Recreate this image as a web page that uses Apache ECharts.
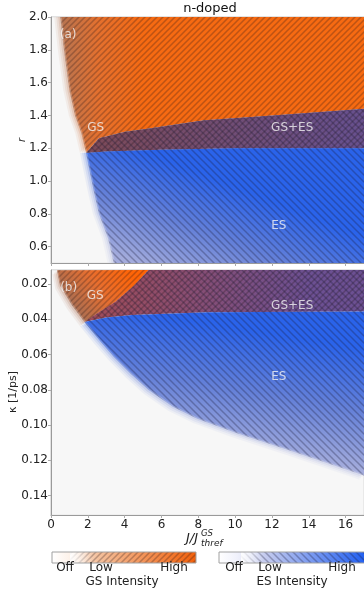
<!DOCTYPE html>
<html><head><meta charset="utf-8">
<script src="https://cdn.jsdelivr.net/npm/echarts@6.0.0/dist/echarts.min.js"></script>
<style>html,body{margin:0;padding:0;background:#fff}#c{width:364px;height:592px}</style>
</head><body><div id="c"></div><script>
// ---------- data ----------
const jTicks = [0, 2, 4, 6, 8, 10, 12, 14, 16];
const rTicks = [0.6, 0.8, 1.0, 1.2, 1.4, 1.6, 1.8, 2.0];
const kappaTicks = [0.02, 0.04, 0.06, 0.08, 0.10, 0.12, 0.14];

// Panel (a): lasing threshold boundary [J/Jth, r]
const thresholdA = [[0.5,2.0],[0.7,1.8],[1.0,1.55],[1.3,1.4],[1.65,1.29],[1.9,1.17],[2.1,1.06],[2.3,0.95],[2.6,0.8],[3.1,0.65],[3.4,0.5]];
// boundary GS-only / GS+ES
const esOnsetA = [[1.9,1.17],[2.6,1.26],[4,1.3],[5.3,1.32],[8.3,1.37],[12,1.4],[17,1.44]];
// boundary GS+ES / ES-only
const gsQuenchA = [[1.9,1.17],[3,1.18],[6,1.19],[10,1.2],[17,1.2]];

// Panel (b): lasing threshold boundary [J/Jth, kappa]
const thresholdB = [[0.32,0.0121],[0.48,0.0206],[1.12,0.0319],[1.81,0.0415],[2.61,0.0517],[3.41,0.0613],[4.32,0.0709],[5.28,0.080],[6.61,0.0896],[7.94,0.0964],[10.02,0.1043],[13.0,0.1145],[16.68,0.1275],[17,0.1287]];
const esOnsetB = [[1.81,0.0415],[2.6,0.036],[3.5,0.030],[4.5,0.021],[5.3,0.012]];
const gsQuenchB = [[1.81,0.0415],[3,0.039],[4.4,0.0375],[8.5,0.036],[17,0.0355]];

// region annotations
const labelsA = [{text:'(a)', at:[0.93,1.89]},{text:'GS', at:[2.43,1.324]},{text:'GS+ES', at:[13.1,1.324]},{text:'ES', at:[12.37,0.724]}];
const labelsB = [{text:'(b)', at:[0.96,0.0223]},{text:'GS', at:[2.4,0.0268]},{text:'GS+ES', at:[13.1,0.0322]},{text:'ES', at:[12.37,0.0729]}];

// ---------- region polygons built from the boundaries ----------
const mA = 5, mB = 3;
const gsOnlyA = [...thresholdA.slice(0, mA + 1), ...esOnsetA.slice(1), [17, 2.0]];
const overlapA = [...esOnsetA, ...gsQuenchA.slice().reverse()];
const esOnlyA = [...gsQuenchA, [17, 0.5], ...thresholdA.slice(mA).reverse()];
const gsOnlyB = [...thresholdB.slice(0, mB + 1), ...esOnsetB.slice(1)];
const overlapB = [...esOnsetB, [17, 0.012], ...gsQuenchB.slice().reverse()];
const esOnlyB = [...gsQuenchB, ...thresholdB.slice(mB).reverse()];

const FONT = 'DejaVu Sans';
const BG = '#f7f7f7';

function hatch(size, dir, color, lw) {
  const c = document.createElement('canvas');
  c.width = c.height = size;
  const g = c.getContext('2d');
  g.strokeStyle = color; g.lineWidth = lw; g.lineCap = 'butt';
  g.beginPath();
  if (dir > 0) {
    g.moveTo(-1, size + 1); g.lineTo(size + 1, -1);
    g.moveTo(-size / 2 - 1, size / 2 + 1); g.lineTo(size / 2 + 1, -size / 2 - 1);
    g.moveTo(size / 2 - 1, size * 1.5 + 1); g.lineTo(size * 1.5 + 1, size / 2 - 1);
  } else {
    g.moveTo(-1, -1); g.lineTo(size + 1, size + 1);
    g.moveTo(-size / 2 - 1, size / 2 - 1); g.lineTo(size / 2 + 1, size * 1.5 + 1);
    g.moveTo(size / 2 - 1, -size / 2 - 1); g.lineTo(size * 1.5 + 1, size / 2 + 1);
  }
  g.stroke();
  return c;
}
const GS_PAT = { image: hatch(6, 1, 'rgba(40,20,25,0.28)', 1.5), repeat: 'repeat' };
const ES_PAT = { image: hatch(7, -1, 'rgba(25,25,55,0.3)', 1.5), repeat: 'repeat' };

function grad(api, p0, p1, stops) {
  const a = api.coord(p0), b = api.coord(p1);
  return new echarts.graphic.LinearGradient(a[0], a[1], b[0], b[1],
    stops.map(s => ({ offset: s[0], color: s[1] })), true);
}

// polygon drawn through the axes; optional pixel offsets build a soft halo
function polySeries(grid, verts, styleOf, z, halo) {
  return {
    type: 'custom', coordinateSystem: 'cartesian2d', xAxisIndex: grid, yAxisIndex: grid,
    clip: true, silent: true, z: z, data: verts,
    renderItem: function (params, api) {
      if (params.dataIndex !== 0) return null;
      const pts = verts.map(v => api.coord(v));
      if (!halo) return { type: 'polygon', shape: { points: pts }, style: styleOf(api) };
      return { type: 'group', children: halo.offsets.map(s => ({
        type: 'polygon', shape: { points: pts.map(p => [p[0] + s * halo.dx, p[1] + s * halo.dy]) },
        style: Object.assign(styleOf(api), { opacity: halo.opacity }) })) };
    }
  };
}

function maskSeries(grid, verts, dx, dy, shifts, color, z) {
  return {
    type: 'custom', coordinateSystem: 'cartesian2d', xAxisIndex: grid, yAxisIndex: grid,
    clip: true, silent: true, z: z, data: verts,
    renderItem: function (params, api) {
      if (params.dataIndex !== 0) return null;
      const cs = params.coordSys;
      const top = cs.y, bot = cs.y + cs.height, left = cs.x;
      const base = verts.map(v => api.coord(v));
      const children = shifts.map(s => {
        const pts = base.map(p => [p[0] + s * dx, Math.min(bot, Math.max(top, p[1] + s * dy))]);
        const f = pts[0], l = pts[pts.length - 1];
        return { type: 'polygon', shape: { points: [[left, top], [f[0], top], ...pts, [l[0], bot], [left, bot]] },
                 style: { fill: color } };
      });
      return { type: 'group', children: children };
    }
  };
}

function labelSeries(grid, labels) {
  return {
    type: 'scatter', xAxisIndex: grid, yAxisIndex: grid, z: 8, silent: true, symbolSize: 1,
    itemStyle: { color: 'rgba(0,0,0,0)' },
    data: labels.map(l => ({ name: l.text, value: l.at })),
    label: { show: true, position: 'inside', formatter: '{b}', color: '#f4f4f4', fontSize: 12, fontFamily: FONT }
  };
}

const ES_STOPS = [[0, '#a4acdc'], [0.5, '#6480d8'], [1, '#2a63ea']];
const GS_STOPS = [[0, '#b87450'], [0.45, '#e4702e'], [1, '#f66a12']];
const GSB_STOPS = [[0, '#aa6e52'], [0.5, '#e86e2e'], [1, '#ff6406']];
const MASK = 'rgba(247,247,247,0.25)';
const HALO_A = { dx: -1, dy: 0, offsets: [2, 4, 6], opacity: 0.28 };
const HALO_B = { dx: -0.75, dy: 0.66, offsets: [2, 4, 6], opacity: 0.28 };

const gsFillA = api => ({ fill: grad(api, [0.6, 1.7], [5, 1.7], GS_STOPS) });
const esFillA = api => ({ fill: grad(api, [4.2, 0.513], [6.3, 1.125], ES_STOPS) });
const gsFillB = api => ({ fill: grad(api, [1.5, 0.038], [4.5, 0.015], GSB_STOPS) });
const esFillB = api => ({ fill: grad(api, [9.55, 0.114], [10.6, 0.046], ES_STOPS) });

const series = [
  // panel (a)
  polySeries(0, gsOnlyA, gsFillA, 1, HALO_A),
  polySeries(0, esOnlyA, esFillA, 1, HALO_A),
  polySeries(0, gsOnlyA, gsFillA, 2),
  polySeries(0, overlapA, api => ({ fill: grad(api, [2, 1.3], [16, 1.3], [[0, '#7c4a58'], [1, '#68508c']]) }), 2),
  polySeries(0, esOnlyA, esFillA, 2),
  polySeries(0, gsOnlyA, () => ({ fill: GS_PAT }), 3),
  polySeries(0, overlapA, () => ({ fill: GS_PAT }), 3),
  polySeries(0, overlapA, () => ({ fill: ES_PAT }), 3),
  polySeries(0, esOnlyA, () => ({ fill: ES_PAT }), 3),
  maskSeries(0, thresholdA, 1, 0, [-4, -2, 0, 1.5], MASK, 4),
  labelSeries(0, labelsA),
  // panel (b)
  polySeries(1, gsOnlyB, gsFillB, 1, HALO_B),
  polySeries(1, esOnlyB, esFillB, 1, HALO_B),
  polySeries(1, gsOnlyB, gsFillB, 2),
  polySeries(1, overlapB, api => ({ fill: grad(api, [3, 0.03], [14, 0.03], [[0, '#9c4c5c'], [1, '#6c5092']]) }), 2),
  polySeries(1, esOnlyB, esFillB, 2),
  polySeries(1, gsOnlyB, () => ({ fill: GS_PAT }), 3),
  polySeries(1, overlapB, () => ({ fill: GS_PAT }), 3),
  polySeries(1, overlapB, () => ({ fill: ES_PAT }), 3),
  polySeries(1, esOnlyB, () => ({ fill: ES_PAT }), 3),
  maskSeries(1, thresholdB, 0.75, -0.66, [-4, -2, 0, 1.5], MASK, 4),
  labelSeries(1, labelsB)
];

function has(arr, v) { return arr.some(t => Math.abs(t - v) < 1e-9); }

const axisLine = { show: true, lineStyle: { color: '#9a9a9a', width: 1 } };
const tickStyle = { lineStyle: { color: '#aaa' }, length: 3 };

const option = {
  animation: false,
  backgroundColor: '#ffffff',
  grid: [
    { left: 51, top: 17, width: 319, height: 246, show: true, backgroundColor: BG, borderColor: '#c4c4c4', borderWidth: 1 },
    { left: 51, top: 270, width: 319, height: 245, show: true, backgroundColor: BG, borderColor: '#c4c4c4', borderWidth: 1 }
  ],
  xAxis: [
    { type: 'value', gridIndex: 0, min: 0, max: 17, z: 10, axisLine: axisLine,
      axisTick: Object.assign({ show: true, customValues: jTicks }, tickStyle),
      axisLabel: { show: false }, splitLine: { show: false } },
    { type: 'value', gridIndex: 1, min: 0, max: 17, z: 10, axisLine: axisLine,
      axisTick: Object.assign({ show: true, customValues: jTicks }, tickStyle),
      axisLabel: { show: true, customValues: jTicks, margin: 4, fontSize: 12, fontFamily: FONT, color: '#222',
        formatter: v => has(jTicks, v) ? String(v) : '' },
      splitLine: { show: false } }
  ],
  yAxis: [
    { type: 'value', gridIndex: 0, min: 0.5, max: 2.0, z: 10, axisLine: axisLine,
      axisTick: Object.assign({ show: true, customValues: rTicks }, tickStyle),
      axisLabel: { show: true, customValues: rTicks, margin: 3, fontSize: 12, fontFamily: FONT, color: '#222',
        formatter: v => has(rTicks, v) ? v.toFixed(1) : '' },
      splitLine: { show: false } },
    { type: 'value', gridIndex: 1, min: 0.012, max: 0.151, inverse: true, z: 10, axisLine: axisLine,
      axisTick: Object.assign({ show: true, customValues: kappaTicks }, tickStyle),
      axisLabel: { show: true, customValues: kappaTicks, margin: 3, fontSize: 12, fontFamily: FONT, color: '#222',
        formatter: v => has(kappaTicks, v) ? v.toFixed(2) : '' },
      splitLine: { show: false } }
  ],
  series: series,
  graphic: [
    { type: 'text', x: 210, y: 9, style: { text: 'n-doped', font: '13px ' + FONT, fill: '#111', align: 'center', verticalAlign: 'middle' } },
    { type: 'text', x: 22, y: 140, rotation: Math.PI / 2, style: { text: 'r', font: 'italic 10px ' + FONT, fill: '#222', align: 'center', verticalAlign: 'middle' } },
    { type: 'text', x: 13, y: 392, rotation: Math.PI / 2, style: { text: 'κ [1/ps]', font: '11px ' + FONT, fill: '#222', align: 'center', verticalAlign: 'middle' } },
    { type: 'text', x: 186, y: 539, style: { text: 'J/J', font: 'italic 13px ' + FONT, fill: '#222', align: 'left', verticalAlign: 'middle' } },
    { type: 'text', x: 201, y: 534, style: { text: 'GS', font: 'italic 8.5px ' + FONT, fill: '#222', align: 'left', verticalAlign: 'middle' } },
    { type: 'text', x: 201, y: 544, style: { text: 'thref', font: 'italic 9px ' + FONT, fill: '#222', align: 'left', verticalAlign: 'middle' } },
    // GS colour bar
    { type: 'rect', shape: { x: 52, y: 552, width: 144, height: 11 },
      style: { fill: new echarts.graphic.LinearGradient(0, 0, 1, 0, [
        { offset: 0, color: '#ffffff' }, { offset: 0.12, color: '#fdf2ea' }, { offset: 0.32, color: '#f4c09c' }, { offset: 1, color: '#f2600a' }]) } },
    { type: 'rect', shape: { x: 70, y: 552, width: 126, height: 11 }, style: { fill: GS_PAT } },
    { type: 'rect', shape: { x: 70, y: 552, width: 22, height: 11 },
      style: { fill: new echarts.graphic.LinearGradient(0, 0, 1, 0, [
        { offset: 0, color: 'rgba(255,255,255,0.9)' }, { offset: 1, color: 'rgba(255,255,255,0)' }]) } },
    { type: 'rect', shape: { x: 52, y: 552, width: 144, height: 11 }, style: { fill: 'none', stroke: '#a0a0a0', lineWidth: 1 } },
    { type: 'text', x: 65, y: 568, style: { text: 'Off', font: '12px ' + FONT, fill: '#222', align: 'center', verticalAlign: 'middle' } },
    { type: 'text', x: 101, y: 568, style: { text: 'Low', font: '12px ' + FONT, fill: '#222', align: 'center', verticalAlign: 'middle' } },
    { type: 'text', x: 174, y: 568, style: { text: 'High', font: '12px ' + FONT, fill: '#222', align: 'center', verticalAlign: 'middle' } },
    { type: 'text', x: 122, y: 582, style: { text: 'GS Intensity', font: '12px ' + FONT, fill: '#222', align: 'center', verticalAlign: 'middle' } },
    // ES colour bar
    { type: 'rect', shape: { x: 219, y: 552, width: 150, height: 11 },
      style: { fill: new echarts.graphic.LinearGradient(0, 0, 1, 0, [
        { offset: 0, color: '#ffffff' }, { offset: 0.12, color: '#f0f1fb' }, { offset: 0.32, color: '#c2c9ee' }, { offset: 1, color: '#1c5cf2' }]) } },
    { type: 'rect', shape: { x: 241, y: 552, width: 128, height: 11 }, style: { fill: ES_PAT } },
    { type: 'rect', shape: { x: 241, y: 552, width: 22, height: 11 },
      style: { fill: new echarts.graphic.LinearGradient(0, 0, 1, 0, [
        { offset: 0, color: 'rgba(255,255,255,0.9)' }, { offset: 1, color: 'rgba(255,255,255,0)' }]) } },
    { type: 'rect', shape: { x: 219, y: 552, width: 150, height: 11 }, style: { fill: 'none', stroke: '#a0a0a0', lineWidth: 1 } },
    { type: 'text', x: 234, y: 568, style: { text: 'Off', font: '12px ' + FONT, fill: '#222', align: 'center', verticalAlign: 'middle' } },
    { type: 'text', x: 270, y: 568, style: { text: 'Low', font: '12px ' + FONT, fill: '#222', align: 'center', verticalAlign: 'middle' } },
    { type: 'text', x: 342, y: 568, style: { text: 'High', font: '12px ' + FONT, fill: '#222', align: 'center', verticalAlign: 'middle' } },
    { type: 'text', x: 292, y: 582, style: { text: 'ES Intensity', font: '12px ' + FONT, fill: '#222', align: 'center', verticalAlign: 'middle' } }
  ]
};

const chart = echarts.init(document.getElementById('c'), null, { renderer: 'canvas', width: 364, height: 592 });
chart.setOption(option);
</script></body></html>
